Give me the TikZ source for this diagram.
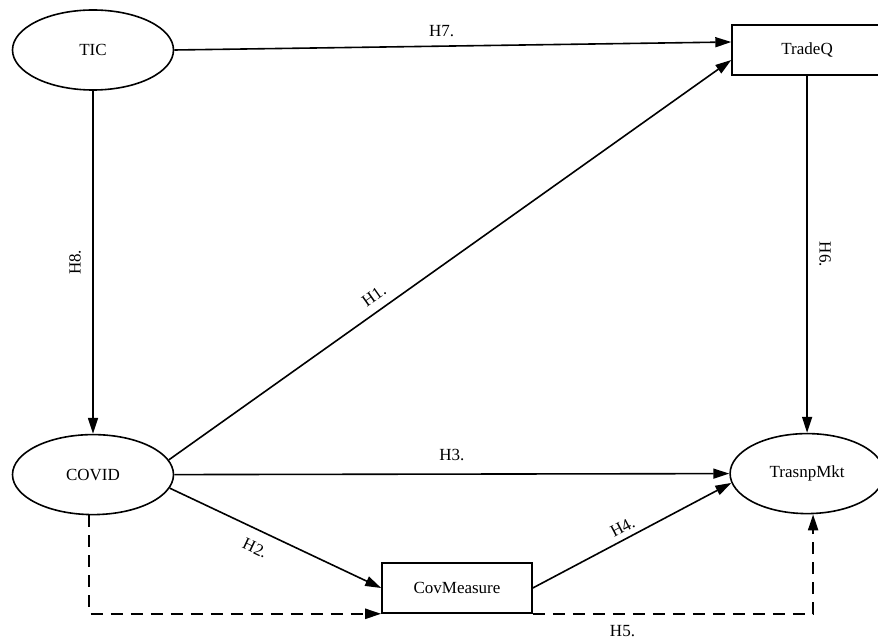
\documentclass[tikz,border=0pt]{standalone}
\usepackage{fontspec}
\setmainfont{Liberation Serif}
\usepackage{tikz}
\usetikzlibrary{arrows.meta,positioning,shapes.geometric}
\tikzstyle{punkt}=[rectangle, draw=black, line width=1.6pt, minimum width=150pt, minimum height=50pt, text centered]
\tikzstyle{oval}=[ellipse, draw=black, line width=1.6pt, minimum width=161pt, minimum height=80pt, inner sep=0pt]
\tikzstyle{hyp}=[-{Triangle[length=16pt,width=10pt]}, line width=1.6pt]
\tikzstyle{indirect}=[hyp, line width=2.3pt, dash pattern=on 12pt off 8pt]

\begin{document}
\begin{tikzpicture}[font=\fontsize{17}{20}\selectfont]
	\useasboundingbox (0,0) rectangle (878pt,-639pt);

	\node[oval] (tic) at (93pt,-50pt) {TIC};
	\node[punkt] (tradeq) [right=557pt of tic] {TradeQ};

	\node[oval] (covid) [below=343pt of tic] {COVID};
	\node[oval, minimum width=154pt] (trasnpmkt) [below=357pt of tradeq] {TrasnpMkt};

	\node[punkt] (covmeasure) at (457pt,-588pt) {CovMeasure};

	\path (tic.east) edge [hyp] node[above=5pt, pos=0.48] {H7.}
		([yshift=8pt]tradeq.west);
	\path (tic.south) edge [hyp] node[midway, xshift=-18pt, rotate=90] {H8.}
		(covid.north);
	\path (tradeq.south) edge [hyp] node[midway, xshift=18pt, rotate=-90] {H6.}
		(trasnpmkt.north);
	\path (covid.11) edge [hyp] node[above=5pt, sloped, pos=0.38] {H1.}
		([yshift=-10pt]tradeq.west);
	\path (covid.east) edge [hyp] node[above=9pt, pos=0.5] {H3.}
		(trasnpmkt.west);
	\path (covid.-10) edge [hyp] node[below=8pt, sloped, pos=0.44] {H2.}
		(covmeasure.west);
	\path (covmeasure.east) edge [hyp] node[above=2pt, sloped, pos=0.48] {H4.}
		(trasnpmkt.187);

	\draw[indirect] ([xshift=-4pt]covid.south) |- (covmeasure.south west);
	\draw[indirect] (covmeasure.south east) -| node[below=7pt, pos=0.16] {H5.}
		([xshift=6pt]trasnpmkt.south);
\end{tikzpicture}
\end{document}
